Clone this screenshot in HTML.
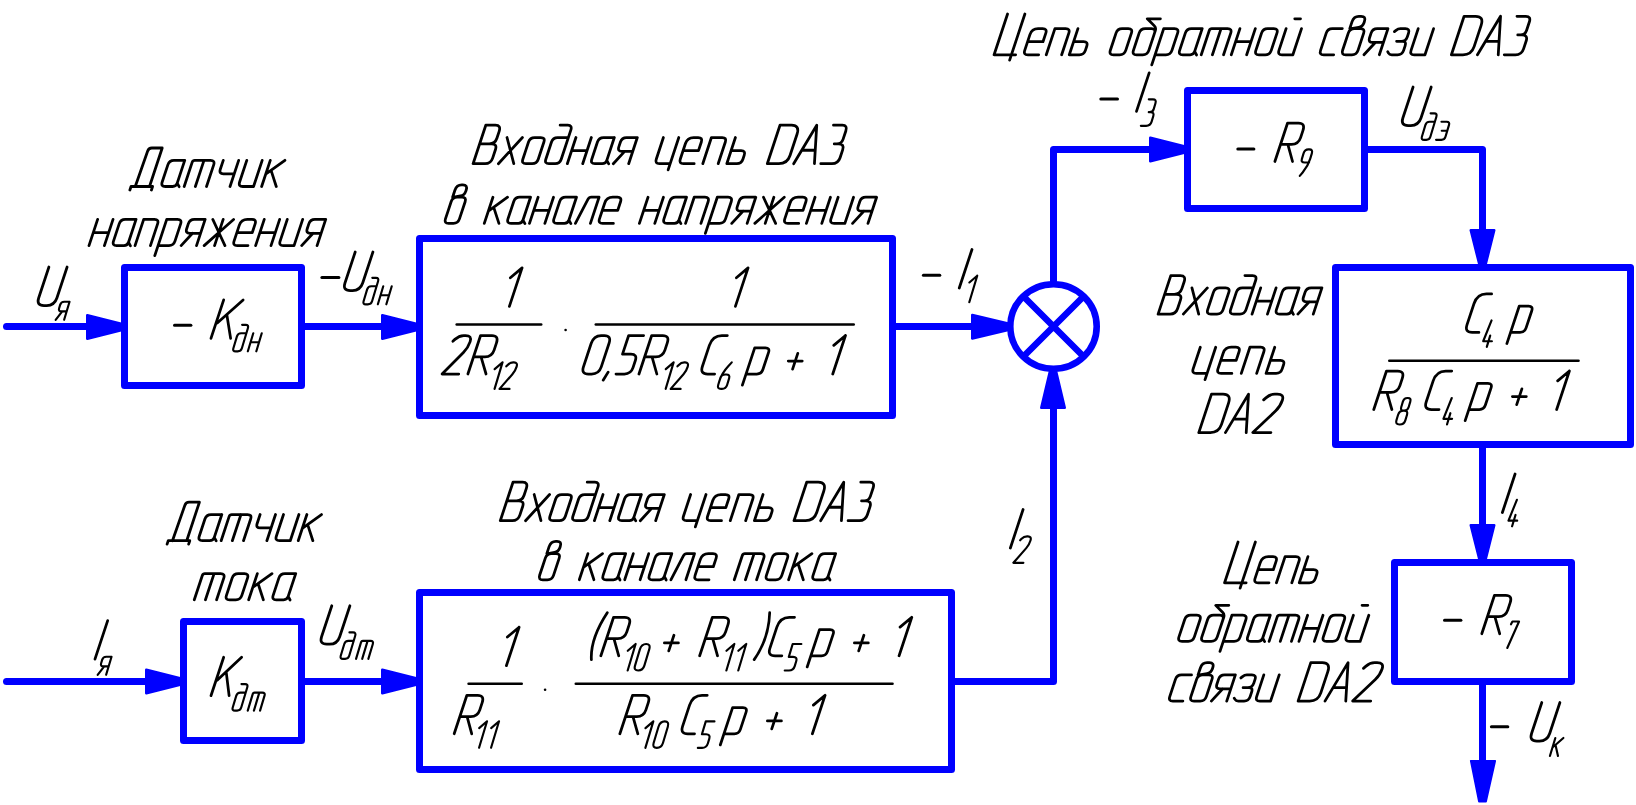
<!DOCTYPE html>
<html><head><meta charset="utf-8"><style>
html,body{margin:0;padding:0;background:#fff;width:1636px;height:805px;overflow:hidden;font-family:"Liberation Sans",sans-serif}
svg{display:block}
</style></head><body>
<svg width="1636" height="805" viewBox="0 0 1636 805">
<path d="M6.5,326.5 L121,326.5" fill="none" stroke="#0000ff" stroke-width="7" stroke-linejoin="round" stroke-linecap="round"/>
<path d="M87.30,315.30 L121.00,323.80 L121.00,330.20 L87.30,338.70Z" fill="#0000ff" stroke="#0000ff" stroke-width="2.6" stroke-linejoin="round"/>
<rect x="124.5" y="267.5" width="177" height="118" fill="none" stroke="#0000ff" stroke-width="7" stroke-linejoin="round"/>
<path d="M305,326.5 L416,326.5" fill="none" stroke="#0000ff" stroke-width="7" stroke-linejoin="round" stroke-linecap="butt"/>
<path d="M382.30,315.30 L416.00,323.80 L416.00,330.20 L382.30,338.70Z" fill="#0000ff" stroke="#0000ff" stroke-width="2.6" stroke-linejoin="round"/>
<rect x="419.5" y="238.5" width="473" height="177" fill="none" stroke="#0000ff" stroke-width="7" stroke-linejoin="round"/>
<path d="M896,326.5 L1008,326.5" fill="none" stroke="#0000ff" stroke-width="7" stroke-linejoin="round" stroke-linecap="butt"/>
<path d="M972.30,315.00 L1008.00,323.50 L1008.00,329.90 L972.30,338.40Z" fill="#0000ff" stroke="#0000ff" stroke-width="2.6" stroke-linejoin="round"/>
<ellipse cx="1053.5" cy="326.5" rx="43.2" ry="42.3" fill="none" stroke="#0000ff" stroke-width="6.6"/>
<path d="M1023.24,296.24 L1083.76,356.76 M1083.76,296.24 L1023.24,356.76" stroke="#0000ff" stroke-width="6.6"/>
<path d="M1053.5,285 L1053.5,149.5 L1184,149.5" fill="none" stroke="#0000ff" stroke-width="7" stroke-linejoin="round" stroke-linecap="butt"/>
<path d="M1150.30,137.80 L1184.00,146.30 L1184.00,152.70 L1150.30,161.20Z" fill="#0000ff" stroke="#0000ff" stroke-width="2.6" stroke-linejoin="round"/>
<rect x="1187.5" y="90.5" width="177" height="118" fill="none" stroke="#0000ff" stroke-width="7" stroke-linejoin="round"/>
<path d="M1368,149.5 L1482.5,149.5 L1482.5,264" fill="none" stroke="#0000ff" stroke-width="7" stroke-linejoin="round" stroke-linecap="butt"/>
<path d="M1470.80,230.30 L1494.20,230.30 L1485.70,264.00 L1479.30,264.00Z" fill="#0000ff" stroke="#0000ff" stroke-width="2.6" stroke-linejoin="round"/>
<rect x="1335.5" y="267.5" width="295" height="177" fill="none" stroke="#0000ff" stroke-width="7" stroke-linejoin="round"/>
<path d="M1482.5,448 L1482.5,559" fill="none" stroke="#0000ff" stroke-width="7" stroke-linejoin="round" stroke-linecap="butt"/>
<path d="M1470.80,525.30 L1494.20,525.30 L1485.70,559.00 L1479.30,559.00Z" fill="#0000ff" stroke="#0000ff" stroke-width="2.6" stroke-linejoin="round"/>
<rect x="1394.5" y="562.5" width="177" height="119" fill="none" stroke="#0000ff" stroke-width="7" stroke-linejoin="round"/>
<path d="M1482.5,685 L1482.5,765" fill="none" stroke="#0000ff" stroke-width="7" stroke-linejoin="round" stroke-linecap="butt"/>
<path d="M1470.80,760.80 L1495.20,760.80 L1486.00,801.50 L1479.00,801.50Z" fill="#0000ff" stroke="#0000ff" stroke-width="1.8" stroke-linejoin="round"/>
<path d="M6.5,681.5 L180,681.5" fill="none" stroke="#0000ff" stroke-width="7" stroke-linejoin="round" stroke-linecap="round"/>
<path d="M146.30,669.80 L180.00,678.30 L180.00,684.70 L146.30,693.20Z" fill="#0000ff" stroke="#0000ff" stroke-width="2.6" stroke-linejoin="round"/>
<rect x="183.5" y="621.5" width="118" height="119" fill="none" stroke="#0000ff" stroke-width="7" stroke-linejoin="round"/>
<path d="M305,681.5 L416,681.5" fill="none" stroke="#0000ff" stroke-width="7" stroke-linejoin="round" stroke-linecap="butt"/>
<path d="M382.30,669.80 L416.00,678.30 L416.00,684.70 L382.30,693.20Z" fill="#0000ff" stroke="#0000ff" stroke-width="2.6" stroke-linejoin="round"/>
<rect x="419.5" y="592.5" width="532" height="177" fill="none" stroke="#0000ff" stroke-width="7" stroke-linejoin="round"/>
<path d="M955,681.5 L1053.5,681.5 L1053.5,369" fill="none" stroke="#0000ff" stroke-width="7" stroke-linejoin="round" stroke-linecap="butt"/>
<path d="M1041.30,407.70 L1064.70,407.70 L1056.20,372.00 L1049.80,372.00Z" fill="#0000ff" stroke="#0000ff" stroke-width="2.6" stroke-linejoin="round"/>
<path d="M129.89,189.97 L131.03,186.50 L152.59,186.50 L151.45,189.97 M135.26,186.50 L147.59,151.28 Q148.74,148.00 151.82,148.00 L162.21,148.00 L149.51,186.50 M184.73,160.32 L173.95,160.32 Q169.33,160.32 167.85,164.81 L162.18,182.01 Q160.69,186.50 165.31,186.50 L172.63,186.50 Q176.09,186.50 177.21,183.13 L184.73,160.32 M177.21,183.13 L179.11,186.69 M184.20,186.50 L192.22,162.19 Q192.84,160.32 194.76,160.32 L210.55,160.32 Q215.17,160.32 213.69,164.81 L206.53,186.50 M204.00,160.32 L195.36,186.50 M223.27,160.32 L220.31,169.30 Q218.83,173.78 223.45,173.78 L234.23,173.78 M238.67,160.32 L230.03,186.50 M246.78,160.32 L239.62,182.01 Q238.14,186.50 242.76,186.50 L253.54,186.50 M262.18,160.32 L253.54,186.50 M270.28,160.32 L261.64,186.50 M284.91,160.32 L266.73,173.41 M271.32,171.17 L276.27,186.50" fill="none" stroke="#000" stroke-width="2.77" stroke-linecap="round" stroke-linejoin="round"/>
<path d="M97.63,219.42 L88.99,245.60 M113.03,219.42 L104.39,245.60 M93.31,232.51 L108.71,232.51 M136.06,219.42 L125.28,219.42 Q120.66,219.42 119.18,223.91 L113.50,241.11 Q112.02,245.60 116.64,245.60 L123.95,245.60 Q127.42,245.60 128.53,242.23 L136.06,219.42 M128.53,242.23 L130.44,245.79 M135.05,245.60 L143.69,219.42 L154.47,219.42 Q159.09,219.42 157.61,223.91 L150.45,245.60 M154.78,255.61 L166.72,219.42 L177.50,219.42 Q182.12,219.42 180.64,223.91 L174.97,241.11 Q173.49,245.60 168.87,245.60 L158.09,245.60 M196.52,245.60 L205.16,219.42 L194.38,219.42 Q189.76,219.42 188.28,223.91 L186.67,228.77 Q185.19,233.26 189.81,233.26 L200.59,233.26 M192.51,233.26 L181.12,245.60 M223.19,219.42 L214.55,245.60 M212.79,219.42 L218.87,232.51 L204.15,245.60 M233.58,219.42 L218.87,232.51 L224.94,245.60 M236.89,232.51 L252.29,232.51 L255.13,223.91 Q256.61,219.42 251.99,219.42 L247.37,219.42 Q241.21,219.42 239.24,225.40 L234.06,241.11 Q232.58,245.60 237.20,245.60 L247.98,245.60 M264.25,219.42 L255.61,245.60 M279.65,219.42 L271.01,245.60 M259.93,232.51 L275.33,232.51 M287.28,219.42 L280.12,241.11 Q278.64,245.60 283.26,245.60 L294.04,245.60 M302.68,219.42 L294.04,245.60 M317.07,245.60 L325.71,219.42 L314.93,219.42 Q310.31,219.42 308.83,223.91 L307.23,228.77 Q305.75,233.26 310.37,233.26 L321.15,233.26 M313.06,233.26 L301.67,245.60" fill="none" stroke="#000" stroke-width="2.77" stroke-linecap="round" stroke-linejoin="round"/>
<path d="M473.09,163.70 L485.79,125.20 L495.42,125.20 Q501.19,125.20 499.16,131.36 L496.88,138.27 Q495.03,143.88 489.25,143.88 L479.63,143.88 M479.63,143.88 L491.56,143.88 Q497.34,143.88 495.49,149.49 L492.65,158.09 Q490.80,163.70 485.02,163.70 L473.09,163.70 M507.02,137.52 L513.78,163.70 M522.42,137.52 L498.38,163.70 M525.68,150.61 L528.51,142.01 Q529.99,137.52 534.61,137.52 L540.77,137.52 Q545.39,137.52 543.91,142.01 L538.24,159.21 Q536.76,163.70 532.14,163.70 L525.98,163.70 Q521.36,163.70 522.84,159.21 L525.68,150.61 M568.37,137.52 L557.59,137.52 Q552.97,137.52 551.49,142.01 L545.82,159.21 Q544.34,163.70 548.96,163.70 L555.12,163.70 Q559.74,163.70 561.22,159.21 L570.81,130.13 Q572.44,125.20 567.82,125.20 L560.12,125.20 M575.95,137.52 L567.32,163.70 M591.35,137.52 L582.72,163.70 M571.63,150.61 L587.03,150.61 M614.33,137.52 L603.55,137.52 Q598.93,137.52 597.45,142.01 L591.78,159.21 Q590.29,163.70 594.91,163.70 L602.23,163.70 Q605.69,163.70 606.81,160.33 L614.33,137.52 M606.81,160.33 L608.71,163.89 M628.67,163.70 L637.31,137.52 L626.53,137.52 Q621.91,137.52 620.43,142.01 L618.83,146.87 Q617.35,151.36 621.97,151.36 L632.75,151.36 M624.66,151.36 L613.27,163.70" fill="none" stroke="#000" stroke-width="2.77" stroke-linecap="round" stroke-linejoin="round"/>
<path d="M663.40,137.52 L656.25,159.21 Q654.76,163.70 659.38,163.70 L670.16,163.70 M678.80,137.52 L668.13,169.86 M683.09,150.61 L698.49,150.61 L701.33,142.01 Q702.81,137.52 698.19,137.52 L693.57,137.52 Q687.41,137.52 685.44,143.50 L680.25,159.21 Q678.77,163.70 683.39,163.70 L694.17,163.70 M702.78,163.70 L711.42,137.52 L722.20,137.52 Q726.82,137.52 725.34,142.01 L718.18,163.70 M735.43,137.52 L726.79,163.70 L736.80,163.70 Q741.42,163.70 742.90,159.21 L744.25,155.10 Q745.74,150.61 741.12,150.61 L731.11,150.61" fill="none" stroke="#000" stroke-width="2.77" stroke-linecap="round" stroke-linejoin="round"/>
<path d="M767.29,163.70 L779.99,125.20 L791.54,125.20 Q800.01,125.20 797.03,134.23 L790.02,155.47 Q787.31,163.70 778.84,163.70 L767.29,163.70 M793.64,163.70 L816.74,125.20 L814.43,163.70 M801.94,150.24 L815.03,150.24 M833.47,125.20 L842.33,125.20 Q847.72,125.20 845.82,130.95 L843.04,139.39 Q841.55,143.88 836.93,143.88 L834.24,143.88 M838.09,143.88 L838.47,143.88 Q844.63,143.88 842.66,149.86 L840.07,157.72 Q838.09,163.70 831.93,163.70 L820.77,163.70" fill="none" stroke="#000" stroke-width="2.77" stroke-linecap="round" stroke-linejoin="round"/>
<path d="M448.28,210.31 L451.12,201.71 Q452.60,197.22 457.22,197.22 L462.00,197.22 Q466.62,197.22 465.14,201.71 L459.46,218.91 Q457.98,223.40 453.36,223.40 L448.58,223.40 Q443.96,223.40 445.45,218.91 L448.28,210.31 M452.60,197.22 L454.91,190.24 Q456.67,184.90 461.67,184.90 L462.87,184.90 Q467.88,184.90 466.19,190.03 L465.85,191.06 Q464.49,195.17 460.45,195.96 L454.00,197.22" fill="none" stroke="#000" stroke-width="2.77" stroke-linecap="round" stroke-linejoin="round"/>
<path d="M492.93,197.22 L484.29,223.40 M507.56,197.22 L489.38,210.31 M493.97,208.07 L498.92,223.40 M530.53,197.22 L519.75,197.22 Q515.13,197.22 513.65,201.71 L507.97,218.91 Q506.49,223.40 511.11,223.40 L518.42,223.40 Q521.89,223.40 523.00,220.03 L530.53,197.22 M523.00,220.03 L524.91,223.59 M538.10,197.22 L529.46,223.40 M553.50,197.22 L544.86,223.40 M533.78,210.31 L549.18,210.31 M576.47,197.22 L565.69,197.22 Q561.07,197.22 559.59,201.71 L553.92,218.91 Q552.44,223.40 557.06,223.40 L564.37,223.40 Q567.84,223.40 568.95,220.03 L576.47,197.22 M568.95,220.03 L570.85,223.59 M575.41,223.40 L587.90,199.43 Q589.05,197.22 591.36,197.22 L599.06,197.22 L590.42,223.40 M602.32,210.31 L617.72,210.31 L620.55,201.71 Q622.04,197.22 617.42,197.22 L612.80,197.22 Q606.64,197.22 604.66,203.20 L599.48,218.91 Q598.00,223.40 602.62,223.40 L613.40,223.40" fill="none" stroke="#000" stroke-width="2.77" stroke-linecap="round" stroke-linejoin="round"/>
<path d="M648.03,197.22 L639.39,223.40 M663.43,197.22 L654.79,223.40 M643.71,210.31 L659.11,210.31 M686.51,197.22 L675.73,197.22 Q671.11,197.22 669.63,201.71 L663.96,218.91 Q662.47,223.40 667.09,223.40 L674.41,223.40 Q677.87,223.40 678.99,220.03 L686.51,197.22 M678.99,220.03 L680.89,223.59 M685.56,223.40 L694.20,197.22 L704.98,197.22 Q709.60,197.22 708.12,201.71 L700.96,223.40 M705.35,233.41 L717.29,197.22 L728.07,197.22 Q732.69,197.22 731.21,201.71 L725.53,218.91 Q724.05,223.40 719.43,223.40 L708.65,223.40 M747.14,223.40 L755.78,197.22 L745.00,197.22 Q740.38,197.22 738.90,201.71 L737.29,206.57 Q735.81,211.06 740.43,211.06 L751.21,211.06 M743.13,211.06 L731.74,223.40 M773.86,197.22 L765.22,223.40 M763.47,197.22 L769.54,210.31 L754.83,223.40 M784.26,197.22 L769.54,210.31 L775.62,223.40 M787.63,210.31 L803.03,210.31 L805.87,201.71 Q807.35,197.22 802.73,197.22 L798.11,197.22 Q791.95,197.22 789.97,203.20 L784.79,218.91 Q783.31,223.40 787.93,223.40 L798.71,223.40 M815.04,197.22 L806.40,223.40 M830.44,197.22 L821.80,223.40 M810.72,210.31 L826.12,210.31 M838.13,197.22 L830.97,218.91 Q829.49,223.40 834.11,223.40 L844.89,223.40 M853.53,197.22 L844.89,223.40 M867.97,223.40 L876.61,197.22 L865.83,197.22 Q861.21,197.22 859.73,201.71 L858.13,206.57 Q856.65,211.06 861.27,211.06 L872.05,211.06 M863.96,211.06 L852.57,223.40" fill="none" stroke="#000" stroke-width="2.77" stroke-linecap="round" stroke-linejoin="round"/>
<path d="M167.09,544.17 L168.23,540.70 L189.79,540.70 L188.65,544.17 M172.46,540.70 L184.79,505.48 Q185.94,502.20 189.02,502.20 L199.41,502.20 L186.71,540.70 M221.81,514.52 L211.03,514.52 Q206.41,514.52 204.93,519.01 L199.26,536.21 Q197.77,540.70 202.39,540.70 L209.71,540.70 Q213.17,540.70 214.29,537.33 L221.81,514.52 M214.29,537.33 L216.19,540.89 M221.16,540.70 L229.18,516.39 Q229.80,514.52 231.72,514.52 L247.51,514.52 Q252.13,514.52 250.65,519.01 L243.49,540.70 M240.96,514.52 L232.32,540.70 M260.11,514.52 L257.15,523.50 Q255.67,527.98 260.29,527.98 L271.07,527.98 M275.51,514.52 L266.87,540.70 M283.50,514.52 L276.34,536.21 Q274.86,540.70 279.48,540.70 L290.26,540.70 M298.90,514.52 L290.26,540.70 M306.88,514.52 L298.24,540.70 M321.51,514.52 L303.33,527.61 M307.92,525.37 L312.87,540.70" fill="none" stroke="#000" stroke-width="2.77" stroke-linecap="round" stroke-linejoin="round"/>
<path d="M194.29,599.80 L202.31,575.49 Q202.93,573.62 204.85,573.62 L220.64,573.62 Q225.26,573.62 223.77,578.11 L216.62,599.80 M214.09,573.62 L205.45,599.80 M229.28,586.71 L232.12,578.11 Q233.60,573.62 238.22,573.62 L244.38,573.62 Q249.00,573.62 247.52,578.11 L241.84,595.31 Q240.36,599.80 235.74,599.80 L229.58,599.80 Q224.96,599.80 226.44,595.31 L229.28,586.71 M257.34,573.62 L248.70,599.80 M271.97,573.62 L253.79,586.71 M258.38,584.47 L263.33,599.80 M295.71,573.62 L284.93,573.62 Q280.31,573.62 278.83,578.11 L273.16,595.31 Q271.67,599.80 276.29,599.80 L283.61,599.80 Q287.07,599.80 288.19,596.43 L295.71,573.62 M288.19,596.43 L290.09,599.99" fill="none" stroke="#000" stroke-width="2.77" stroke-linecap="round" stroke-linejoin="round"/>
<path d="M500.29,520.70 L512.99,482.20 L522.62,482.20 Q528.39,482.20 526.36,488.36 L524.08,495.27 Q522.23,500.88 516.45,500.88 L506.83,500.88 M506.83,500.88 L518.76,500.88 Q524.54,500.88 522.69,506.49 L519.85,515.09 Q518.00,520.70 512.22,520.70 L500.29,520.70 M534.18,494.52 L540.94,520.70 M549.58,494.52 L525.54,520.70 M552.81,507.61 L555.65,499.01 Q557.13,494.52 561.75,494.52 L567.91,494.52 Q572.53,494.52 571.05,499.01 L565.37,516.21 Q563.89,520.70 559.27,520.70 L553.11,520.70 Q548.49,520.70 549.97,516.21 L552.81,507.61 M595.47,494.52 L584.69,494.52 Q580.07,494.52 578.59,499.01 L572.92,516.21 Q571.44,520.70 576.06,520.70 L582.22,520.70 Q586.84,520.70 588.32,516.21 L597.91,487.13 Q599.54,482.20 594.92,482.20 L587.22,482.20 M603.02,494.52 L594.38,520.70 M618.42,494.52 L609.78,520.70 M598.70,507.61 L614.10,507.61 M641.37,494.52 L630.59,494.52 Q625.97,494.52 624.49,499.01 L618.81,516.21 Q617.33,520.70 621.95,520.70 L629.26,520.70 Q632.73,520.70 633.84,517.33 L641.37,494.52 M633.84,517.33 L635.74,520.89 M655.67,520.70 L664.31,494.52 L653.53,494.52 Q648.91,494.52 647.43,499.01 L645.83,503.87 Q644.35,508.36 648.97,508.36 L659.75,508.36 M651.66,508.36 L640.27,520.70" fill="none" stroke="#000" stroke-width="2.77" stroke-linecap="round" stroke-linejoin="round"/>
<path d="M690.60,494.52 L683.45,516.21 Q681.96,520.70 686.58,520.70 L697.36,520.70 M706.00,494.52 L695.33,526.86 M710.42,507.61 L725.82,507.61 L728.66,499.01 Q730.14,494.52 725.52,494.52 L720.90,494.52 Q714.74,494.52 712.77,500.50 L707.59,516.21 Q706.10,520.70 710.72,520.70 L721.50,520.70 M730.25,520.70 L738.88,494.52 L749.66,494.52 Q754.28,494.52 752.80,499.01 L745.65,520.70 M763.03,494.52 L754.39,520.70 L764.40,520.70 Q769.02,520.70 770.50,516.21 L771.85,512.10 Q773.34,507.61 768.72,507.61 L758.71,507.61" fill="none" stroke="#000" stroke-width="2.77" stroke-linecap="round" stroke-linejoin="round"/>
<path d="M793.99,520.70 L806.69,482.20 L818.24,482.20 Q826.71,482.20 823.73,491.23 L816.72,512.47 Q814.01,520.70 805.54,520.70 L793.99,520.70 M820.64,520.70 L843.74,482.20 L841.43,520.70 M828.94,507.24 L842.03,507.24 M860.77,482.20 L869.63,482.20 Q875.02,482.20 873.12,487.95 L870.34,496.39 Q868.85,500.88 864.23,500.88 L861.54,500.88 M865.39,500.88 L865.77,500.88 Q871.93,500.88 869.96,506.86 L867.37,514.72 Q865.39,520.70 859.23,520.70 L848.07,520.70" fill="none" stroke="#000" stroke-width="2.77" stroke-linecap="round" stroke-linejoin="round"/>
<path d="M542.48,566.71 L545.32,558.11 Q546.80,553.62 551.42,553.62 L556.07,553.62 Q560.69,553.62 559.21,558.11 L553.53,575.31 Q552.05,579.80 547.43,579.80 L542.78,579.80 Q538.16,579.80 539.65,575.31 L542.48,566.71 M546.80,553.62 L549.11,546.64 Q550.87,541.30 555.87,541.30 L556.97,541.30 Q561.98,541.30 560.29,546.43 L559.95,547.46 Q558.59,551.57 554.55,552.36 L548.19,553.62" fill="none" stroke="#000" stroke-width="2.77" stroke-linecap="round" stroke-linejoin="round"/>
<path d="M587.93,553.62 L579.29,579.80 M602.56,553.62 L584.38,566.71 M588.97,564.47 L593.92,579.80 M625.65,553.62 L614.87,553.62 Q610.25,553.62 608.77,558.11 L603.09,575.31 Q601.61,579.80 606.23,579.80 L613.54,579.80 Q617.01,579.80 618.12,576.43 L625.65,553.62 M618.12,576.43 L620.03,579.99 M633.34,553.62 L624.70,579.80 M648.74,553.62 L640.10,579.80 M629.02,566.71 L644.42,566.71 M671.83,553.62 L661.05,553.62 Q656.43,553.62 654.95,558.11 L649.28,575.31 Q647.80,579.80 652.42,579.80 L659.73,579.80 Q663.20,579.80 664.31,576.43 L671.83,553.62 M664.31,576.43 L666.21,579.99 M670.89,579.80 L683.38,555.83 Q684.53,553.62 686.84,553.62 L694.54,553.62 L685.90,579.80 M697.92,566.71 L713.32,566.71 L716.15,558.11 Q717.64,553.62 713.02,553.62 L708.40,553.62 Q702.24,553.62 700.26,559.60 L695.08,575.31 Q693.60,579.80 698.22,579.80 L709.00,579.80" fill="none" stroke="#000" stroke-width="2.77" stroke-linecap="round" stroke-linejoin="round"/>
<path d="M734.29,579.80 L742.31,555.49 Q742.93,553.62 744.85,553.62 L760.64,553.62 Q765.26,553.62 763.77,558.11 L756.62,579.80 M754.09,553.62 L745.45,579.80 M769.25,566.71 L772.08,558.11 Q773.56,553.62 778.18,553.62 L784.34,553.62 Q788.96,553.62 787.48,558.11 L781.81,575.31 Q780.33,579.80 775.71,579.80 L769.55,579.80 Q764.93,579.80 766.41,575.31 L769.25,566.71 M797.27,553.62 L788.64,579.80 M811.90,553.62 L793.72,566.71 M798.32,564.47 L803.27,579.80 M835.61,553.62 L824.83,553.62 Q820.21,553.62 818.73,558.11 L813.06,575.31 Q811.57,579.80 816.19,579.80 L823.51,579.80 Q826.97,579.80 828.09,576.43 L835.61,553.62 M828.09,576.43 L829.99,579.99" fill="none" stroke="#000" stroke-width="2.77" stroke-linecap="round" stroke-linejoin="round"/>
<path d="M1007.55,13.99 L994.09,54.80 L1015.65,54.80 M1024.88,13.99 L1009.63,60.19 M1027.58,41.71 L1042.98,41.71 L1045.82,33.11 Q1047.30,28.62 1042.68,28.62 L1038.06,28.62 Q1031.90,28.62 1029.92,34.60 L1024.74,50.31 Q1023.26,54.80 1027.88,54.80 L1038.66,54.80 M1046.27,54.80 L1054.91,28.62 L1065.69,28.62 Q1070.31,28.62 1068.83,33.11 L1061.67,54.80 M1077.93,28.62 L1069.29,54.80 L1079.30,54.80 Q1083.92,54.80 1085.40,50.31 L1086.75,46.20 Q1088.24,41.71 1083.62,41.71 L1073.61,41.71" fill="none" stroke="#000" stroke-width="2.77" stroke-linecap="round" stroke-linejoin="round"/>
<path d="M1113.18,41.71 L1116.02,33.11 Q1117.50,28.62 1122.12,28.62 L1128.28,28.62 Q1132.90,28.62 1131.42,33.11 L1125.75,50.31 Q1124.26,54.80 1119.64,54.80 L1113.48,54.80 Q1108.86,54.80 1110.35,50.31 L1113.18,41.71 M1136.28,41.71 L1139.12,33.11 Q1140.60,28.62 1145.22,28.62 L1151.38,28.62 Q1156.00,28.62 1154.52,33.11 L1148.84,50.31 Q1147.36,54.80 1142.74,54.80 L1136.58,54.80 Q1131.96,54.80 1133.44,50.31 L1136.28,41.71 M1154.77,32.36 L1155.26,30.86 Q1156.27,27.80 1154.39,25.90 L1147.32,18.76 L1160.41,18.76 M1151.76,64.81 L1163.70,28.62 L1174.48,28.62 Q1179.10,28.62 1177.62,33.11 L1171.94,50.31 Q1170.46,54.80 1165.84,54.80 L1155.06,54.80 M1202.20,28.62 L1191.42,28.62 Q1186.80,28.62 1185.31,33.11 L1179.64,50.31 Q1178.16,54.80 1182.78,54.80 L1190.09,54.80 Q1193.56,54.80 1194.67,51.43 L1202.20,28.62 M1194.67,51.43 L1196.57,54.99 M1201.25,54.80 L1209.28,30.49 Q1209.89,28.62 1211.82,28.62 L1227.60,28.62 Q1232.22,28.62 1230.74,33.11 L1223.58,54.80 M1221.06,28.62 L1212.42,54.80 M1239.92,28.62 L1231.28,54.80 M1255.32,28.62 L1246.68,54.80 M1235.60,41.71 L1251.00,41.71 M1258.70,41.71 L1261.54,33.11 Q1263.02,28.62 1267.64,28.62 L1273.80,28.62 Q1278.42,28.62 1276.94,33.11 L1271.26,50.31 Q1269.78,54.80 1265.16,54.80 L1259.00,54.80 Q1254.38,54.80 1255.86,50.31 L1258.70,41.71 M1286.11,28.62 L1278.96,50.31 Q1277.47,54.80 1282.09,54.80 L1292.87,54.80 M1301.51,28.62 L1292.87,54.80 M1294.76,18.76 L1300.53,18.76" fill="none" stroke="#000" stroke-width="2.77" stroke-linecap="round" stroke-linejoin="round"/>
<path d="M1342.33,28.62 L1332.32,28.62 Q1327.70,28.62 1326.22,33.11 L1320.55,50.31 Q1319.06,54.80 1323.68,54.80 L1333.69,54.80 M1345.43,41.71 L1348.27,33.11 Q1349.75,28.62 1354.37,28.62 L1360.53,28.62 Q1365.15,28.62 1363.67,33.11 L1358.00,50.31 Q1356.51,54.80 1351.89,54.80 L1345.73,54.80 Q1341.11,54.80 1342.60,50.31 L1345.43,41.71 M1349.75,28.62 L1352.06,21.64 Q1353.82,16.30 1358.82,16.30 L1361.13,16.30 Q1366.14,16.30 1364.45,21.43 L1364.11,22.46 Q1362.75,26.57 1358.72,27.29 L1351.29,28.62 M1379.33,54.80 L1387.97,28.62 L1377.19,28.62 Q1372.57,28.62 1371.09,33.11 L1369.49,37.97 Q1368.01,42.46 1372.63,42.46 L1383.41,42.46 M1375.32,42.46 L1363.93,54.80 M1394.41,31.61 L1396.01,30.31 Q1398.09,28.62 1400.40,28.62 L1405.40,28.62 Q1410.02,28.62 1408.54,33.11 L1407.31,36.85 Q1405.83,41.34 1401.21,41.34 L1396.59,41.34 M1402.75,41.34 L1402.75,41.34 Q1406.60,41.34 1405.12,45.82 L1403.64,50.31 Q1402.15,54.80 1397.53,54.80 L1391.76,54.80 Q1389.45,54.80 1388.49,53.11 L1387.74,51.81 M1418.21,28.62 L1411.06,50.31 Q1409.57,54.80 1414.19,54.80 L1424.97,54.80 M1433.61,28.62 L1424.97,54.80" fill="none" stroke="#000" stroke-width="2.77" stroke-linecap="round" stroke-linejoin="round"/>
<path d="M1451.39,54.80 L1464.09,16.30 L1475.64,16.30 Q1484.11,16.30 1481.13,25.33 L1474.12,46.57 Q1471.41,54.80 1462.94,54.80 L1451.39,54.80 M1477.44,54.80 L1500.54,16.30 L1498.23,54.80 M1485.74,41.34 L1498.83,41.34 M1516.97,16.30 L1525.83,16.30 Q1531.22,16.30 1529.32,22.05 L1526.54,30.49 Q1525.05,34.98 1520.43,34.98 L1517.74,34.98 M1521.59,34.98 L1521.97,34.98 Q1528.13,34.98 1526.16,40.96 L1523.57,48.82 Q1521.59,54.80 1515.43,54.80 L1504.27,54.80" fill="none" stroke="#000" stroke-width="2.77" stroke-linecap="round" stroke-linejoin="round"/>
<path d="M1158.09,314.10 L1170.79,275.60 L1180.42,275.60 Q1186.19,275.60 1184.16,281.76 L1181.88,288.67 Q1180.03,294.28 1174.25,294.28 L1164.63,294.28 M1164.63,294.28 L1176.56,294.28 Q1182.34,294.28 1180.49,299.89 L1177.65,308.49 Q1175.80,314.10 1170.02,314.10 L1158.09,314.10 M1191.95,287.92 L1198.71,314.10 M1207.35,287.92 L1183.31,314.10 M1210.54,301.01 L1213.38,292.41 Q1214.86,287.92 1219.48,287.92 L1225.64,287.92 Q1230.26,287.92 1228.78,292.41 L1223.10,309.61 Q1221.62,314.10 1217.00,314.10 L1210.84,314.10 Q1206.22,314.10 1207.70,309.61 L1210.54,301.01 M1253.17,287.92 L1242.39,287.92 Q1237.77,287.92 1236.29,292.41 L1230.62,309.61 Q1229.14,314.10 1233.76,314.10 L1239.92,314.10 Q1244.54,314.10 1246.02,309.61 L1255.61,280.53 Q1257.24,275.60 1252.62,275.60 L1244.92,275.60 M1260.69,287.92 L1252.05,314.10 M1276.09,287.92 L1267.45,314.10 M1256.37,301.01 L1271.77,301.01 M1299.00,287.92 L1288.22,287.92 Q1283.60,287.92 1282.12,292.41 L1276.44,309.61 Q1274.96,314.10 1279.58,314.10 L1286.90,314.10 Q1290.36,314.10 1291.47,310.73 L1299.00,287.92 M1291.47,310.73 L1293.38,314.29 M1313.27,314.10 L1321.91,287.92 L1311.13,287.92 Q1306.51,287.92 1305.03,292.41 L1303.43,297.27 Q1301.95,301.76 1306.57,301.76 L1317.35,301.76 M1309.26,301.76 L1297.87,314.10" fill="none" stroke="#000" stroke-width="2.77" stroke-linecap="round" stroke-linejoin="round"/>
<path d="M1200.30,347.22 L1193.15,368.91 Q1191.66,373.40 1196.28,373.40 L1207.06,373.40 M1215.70,347.22 L1205.03,379.56 M1220.79,360.31 L1236.19,360.31 L1239.03,351.71 Q1240.51,347.22 1235.89,347.22 L1231.27,347.22 Q1225.11,347.22 1223.14,353.20 L1217.95,368.91 Q1216.47,373.40 1221.09,373.40 L1231.87,373.40 M1241.28,373.40 L1249.92,347.22 L1260.70,347.22 Q1265.32,347.22 1263.84,351.71 L1256.68,373.40 M1274.73,347.22 L1266.09,373.40 L1276.10,373.40 Q1280.72,373.40 1282.20,368.91 L1283.55,364.80 Q1285.04,360.31 1280.42,360.31 L1270.41,360.31" fill="none" stroke="#000" stroke-width="2.77" stroke-linecap="round" stroke-linejoin="round"/>
<path d="M1198.79,432.60 L1211.49,394.10 L1223.04,394.10 Q1231.51,394.10 1228.53,403.13 L1221.52,424.37 Q1218.81,432.60 1210.34,432.60 L1198.79,432.60 M1225.42,432.60 L1248.52,394.10 L1246.21,432.60 M1233.72,419.14 L1246.81,419.14 M1263.64,399.85 L1265.92,397.84 Q1270.16,394.10 1274.78,394.10 L1277.28,394.10 Q1284.40,394.10 1282.37,400.26 L1282.37,400.26 Q1280.34,406.42 1275.51,411.02 L1252.83,432.60 L1270.93,432.60" fill="none" stroke="#000" stroke-width="2.77" stroke-linecap="round" stroke-linejoin="round"/>
<path d="M1238.05,541.99 L1224.59,582.80 L1246.15,582.80 M1255.38,541.99 L1240.13,588.19 M1257.91,569.71 L1273.31,569.71 L1276.15,561.11 Q1277.63,556.62 1273.01,556.62 L1268.39,556.62 Q1262.23,556.62 1260.26,562.60 L1255.07,578.31 Q1253.59,582.80 1258.21,582.80 L1268.99,582.80 M1276.44,582.80 L1285.08,556.62 L1295.86,556.62 Q1300.48,556.62 1299.00,561.11 L1291.84,582.80 M1307.93,556.62 L1299.29,582.80 L1309.30,582.80 Q1313.92,582.80 1315.40,578.31 L1316.75,574.20 Q1318.24,569.71 1313.62,569.71 L1303.61,569.71" fill="none" stroke="#000" stroke-width="2.77" stroke-linecap="round" stroke-linejoin="round"/>
<path d="M1181.78,628.31 L1184.62,619.71 Q1186.10,615.22 1190.72,615.22 L1196.88,615.22 Q1201.50,615.22 1200.02,619.71 L1194.35,636.91 Q1192.86,641.40 1188.24,641.40 L1182.08,641.40 Q1177.46,641.40 1178.95,636.91 L1181.78,628.31 M1204.70,628.31 L1207.53,619.71 Q1209.02,615.22 1213.64,615.22 L1219.80,615.22 Q1224.42,615.22 1222.93,619.71 L1217.26,636.91 Q1215.78,641.40 1211.16,641.40 L1205.00,641.40 Q1200.38,641.40 1201.86,636.91 L1204.70,628.31 M1223.18,618.96 L1223.67,617.46 Q1224.69,614.40 1222.80,612.50 L1215.73,605.36 L1228.82,605.36 M1219.98,651.41 L1231.93,615.22 L1242.71,615.22 Q1247.33,615.22 1245.85,619.71 L1240.17,636.91 Q1238.69,641.40 1234.07,641.40 L1223.29,641.40 M1270.24,615.22 L1259.46,615.22 Q1254.84,615.22 1253.36,619.71 L1247.68,636.91 Q1246.20,641.40 1250.82,641.40 L1258.13,641.40 Q1261.60,641.40 1262.71,638.03 L1270.24,615.22 M1262.71,638.03 L1264.62,641.59 M1269.11,641.40 L1277.13,617.09 Q1277.75,615.22 1279.67,615.22 L1295.46,615.22 Q1300.08,615.22 1298.60,619.71 L1291.44,641.40 M1288.91,615.22 L1280.28,641.40 M1307.59,615.22 L1298.95,641.40 M1322.99,615.22 L1314.35,641.40 M1303.27,628.31 L1318.67,628.31 M1326.18,628.31 L1329.02,619.71 Q1330.50,615.22 1335.12,615.22 L1341.28,615.22 Q1345.90,615.22 1344.42,619.71 L1338.74,636.91 Q1337.26,641.40 1332.64,641.40 L1326.48,641.40 Q1321.86,641.40 1323.34,636.91 L1326.18,628.31 M1353.41,615.22 L1346.26,636.91 Q1344.77,641.40 1349.39,641.40 L1360.17,641.40 M1368.81,615.22 L1360.17,641.40 M1362.06,605.36 L1367.83,605.36" fill="none" stroke="#000" stroke-width="2.77" stroke-linecap="round" stroke-linejoin="round"/>
<path d="M1191.53,674.92 L1181.52,674.92 Q1176.90,674.92 1175.42,679.41 L1169.75,696.61 Q1168.26,701.10 1172.88,701.10 L1182.89,701.10 M1193.73,688.01 L1196.57,679.41 Q1198.05,674.92 1202.67,674.92 L1208.83,674.92 Q1213.45,674.92 1211.97,679.41 L1206.30,696.61 Q1204.81,701.10 1200.19,701.10 L1194.03,701.10 Q1189.41,701.10 1190.90,696.61 L1193.73,688.01 M1198.05,674.92 L1200.36,667.94 Q1202.12,662.60 1207.12,662.60 L1209.43,662.60 Q1214.44,662.60 1212.75,667.73 L1212.41,668.76 Q1211.05,672.87 1207.02,673.59 L1199.59,674.92 M1226.73,701.10 L1235.37,674.92 L1224.59,674.92 Q1219.97,674.92 1218.49,679.41 L1216.89,684.27 Q1215.41,688.76 1220.03,688.76 L1230.81,688.76 M1222.72,688.76 L1211.33,701.10 M1240.91,677.91 L1242.51,676.61 Q1244.59,674.92 1246.90,674.92 L1251.90,674.92 Q1256.52,674.92 1255.04,679.41 L1253.81,683.15 Q1252.33,687.64 1247.71,687.64 L1243.09,687.64 M1249.25,687.64 L1249.25,687.64 Q1253.10,687.64 1251.62,692.12 L1250.14,696.61 Q1248.65,701.10 1244.03,701.10 L1238.26,701.10 Q1235.95,701.10 1234.99,699.41 L1234.24,698.11 M1263.81,674.92 L1256.66,696.61 Q1255.17,701.10 1259.79,701.10 L1270.57,701.10 M1279.21,674.92 L1270.57,701.10" fill="none" stroke="#000" stroke-width="2.77" stroke-linecap="round" stroke-linejoin="round"/>
<path d="M1298.09,701.10 L1310.79,662.60 L1322.34,662.60 Q1330.81,662.60 1327.83,671.63 L1320.82,692.87 Q1318.11,701.10 1309.64,701.10 L1298.09,701.10 M1324.97,701.10 L1348.07,662.60 L1345.76,701.10 M1333.27,687.64 L1346.36,687.64 M1363.44,668.35 L1365.72,666.34 Q1369.96,662.60 1374.58,662.60 L1377.08,662.60 Q1384.20,662.60 1382.17,668.76 L1382.17,668.76 Q1380.14,674.92 1375.31,679.52 L1352.63,701.10 L1370.73,701.10" fill="none" stroke="#000" stroke-width="2.77" stroke-linecap="round" stroke-linejoin="round"/>
<path d="M522.08,267.90 L509.38,306.40 M510.36,277.76 L522.08,267.90" fill="none" stroke="#000" stroke-width="2.75" stroke-linecap="round" stroke-linejoin="round"/>
<path d="M456.70,324.50 L541.20,324.50" stroke="#000" stroke-width="2.6" stroke-linecap="round"/>
<path d="M452.88,341.25 L454.90,339.37 Q459.04,335.50 463.66,335.50 L465.61,335.50 Q472.18,335.50 470.15,341.66 L470.15,341.66 Q468.11,347.82 463.43,352.53 L442.07,374.00 L458.76,374.00 M467.88,374.00 L480.58,335.50 L492.00,335.50 Q498.93,335.50 496.49,342.89 L494.12,350.06 Q491.90,356.80 484.97,356.80 L473.55,356.80 M481.04,356.80 L486.04,374.00" fill="none" stroke="#000" stroke-width="2.75" stroke-linecap="round" stroke-linejoin="round"/>
<path d="M502.52,362.40 L494.57,388.90 M494.66,369.18 L502.52,362.40 M506.32,366.36 L507.42,365.20 Q510.06,362.40 513.24,362.40 L513.98,362.40 Q517.90,362.40 516.63,366.64 L516.63,366.64 Q515.36,370.88 512.40,374.25 L499.56,388.90 L509.53,388.90" fill="none" stroke="#000" stroke-width="2.15" stroke-linecap="round" stroke-linejoin="round"/>
<circle cx="565.6" cy="330" r="1.3" fill="#000"/>
<path d="M748.08,267.90 L735.38,306.40 M736.36,277.76 L748.08,267.90" fill="none" stroke="#000" stroke-width="2.75" stroke-linecap="round" stroke-linejoin="round"/>
<path d="M595.80,324.50 L853.70,324.50" stroke="#000" stroke-width="2.6" stroke-linecap="round"/>
<path d="M587.27,355.30 L591.23,343.30 Q593.80,335.50 601.12,335.50 L604.32,335.50 Q611.63,335.50 609.06,343.30 L601.27,366.89 Q598.93,374.00 591.61,374.00 L588.41,374.00 Q581.10,374.00 583.44,366.89 L587.27,355.30 M608.13,372.13 L603.17,380.16 M643.62,335.50 L628.68,335.50 L622.52,354.18 L630.92,354.18 Q637.46,354.18 635.36,360.54 L633.02,367.64 Q630.92,374.00 624.37,374.00 L615.98,374.00 M638.98,374.00 L651.68,335.50 L662.80,335.50 Q669.73,335.50 667.29,342.89 L664.92,350.06 Q662.70,356.80 655.77,356.80 L644.65,356.80 M652.02,356.80 L656.84,374.00 M727.33,335.50 L721.85,335.50 Q712.61,335.50 709.36,345.36 L702.37,366.52 Q699.91,374.00 707.61,374.00 L714.62,374.00 M742.38,385.17 L754.70,347.82 L765.43,347.82 Q770.05,347.82 768.57,352.31 L762.89,369.51 Q761.41,374.00 756.79,374.00 L746.06,374.00 M788.27,361.10 L802.22,361.10 M797.78,353.43 L792.60,369.14 M845.48,335.50 L832.77,374.00 M833.76,345.36 L845.48,335.50" fill="none" stroke="#000" stroke-width="2.75" stroke-linecap="round" stroke-linejoin="round"/>
<path d="M673.62,362.40 L665.68,388.90 M665.76,369.18 L673.62,362.40 M677.42,366.36 L678.52,365.20 Q681.16,362.40 684.34,362.40 L685.08,362.40 Q689.00,362.40 687.73,366.64 L687.73,366.64 Q686.46,370.88 683.50,374.25 L670.66,388.90 L680.63,388.90 M731.77,362.40 L728.45,366.09 Q721.67,373.45 719.35,381.18 L718.19,385.04 Q717.03,388.90 721.01,388.90 L721.96,388.90 Q725.94,388.90 727.10,385.04 L729.10,378.35 Q730.26,374.48 726.29,374.48 L725.33,374.48 Q721.36,374.48 720.20,378.35 L720.12,378.60" fill="none" stroke="#000" stroke-width="2.15" stroke-linecap="round" stroke-linejoin="round"/>
<path d="M519.08,627.20 L506.38,665.70 M507.36,637.06 L519.08,627.20" fill="none" stroke="#000" stroke-width="2.75" stroke-linecap="round" stroke-linejoin="round"/>
<path d="M468.60,683.80 L521.70,683.80" stroke="#000" stroke-width="2.6" stroke-linecap="round"/>
<path d="M454.18,733.80 L466.88,695.30 L477.70,695.30 Q484.63,695.30 482.19,702.69 L479.82,709.86 Q477.60,716.60 470.67,716.60 L459.85,716.60 M467.10,716.60 L471.74,733.80" fill="none" stroke="#000" stroke-width="2.75" stroke-linecap="round" stroke-linejoin="round"/>
<path d="M487.02,721.30 L479.07,747.80 M479.16,728.08 L487.02,721.30 M499.02,721.30 L491.07,747.80 M491.16,728.08 L499.02,721.30" fill="none" stroke="#000" stroke-width="2.15" stroke-linecap="round" stroke-linejoin="round"/>
<circle cx="545.1" cy="689.8" r="1.3" fill="#000"/>
<path d="M607.26,612.68 L607.26,612.68 Q590.24,638.60 591.38,659.65 L591.38,659.65 M600.88,655.80 L613.58,617.30 L624.70,617.30 Q631.63,617.30 629.19,624.69 L626.82,631.86 Q624.60,638.60 617.67,638.60 L606.55,638.60 M613.92,638.60 L618.74,655.80 M664.38,642.90 L678.42,642.90 M673.93,635.23 L668.75,650.94 M699.67,655.80 L712.38,617.30 L723.50,617.30 Q730.43,617.30 727.99,624.69 L725.62,631.86 Q723.40,638.60 716.47,638.60 L705.35,638.60 M712.72,638.60 L717.54,655.80 M769.68,612.68 L769.68,612.68 Q768.82,638.60 754.17,659.65 L754.17,659.65 M794.52,617.30 L789.35,617.30 Q780.11,617.30 776.86,627.16 L769.87,648.32 Q767.41,655.80 775.11,655.80 L781.82,655.80 M807.17,666.96 L819.50,629.62 L830.03,629.62 Q834.65,629.62 833.17,634.11 L827.49,651.31 Q826.01,655.80 821.39,655.80 L810.86,655.80 M854.38,642.90 L868.32,642.90 M863.88,635.23 L858.70,650.94 M911.78,617.30 L899.08,655.80 M900.06,627.16 L911.78,617.30" fill="none" stroke="#000" stroke-width="2.75" stroke-linecap="round" stroke-linejoin="round"/>
<path d="M635.62,644.00 L627.68,670.50 M627.76,650.78 L635.62,644.00 M637.41,657.63 L639.89,649.37 Q641.50,644.00 646.17,644.00 L646.17,644.00 Q650.83,644.00 649.22,649.37 L644.35,665.61 Q642.88,670.50 638.22,670.50 L638.22,670.50 Q633.55,670.50 635.02,665.61 L637.41,657.63 M734.32,644.00 L726.38,670.50 M726.46,650.78 L734.32,644.00 M746.23,644.00 L738.28,670.50 M738.36,650.78 L746.23,644.00 M801.37,644.00 L792.68,644.00 L788.82,656.86 L793.01,656.86 Q797.51,656.86 796.20,661.23 L794.73,666.12 Q793.42,670.50 788.92,670.50 L784.73,670.50" fill="none" stroke="#000" stroke-width="2.15" stroke-linecap="round" stroke-linejoin="round"/>
<path d="M575.80,683.80 L892.50,683.80" stroke="#000" stroke-width="2.6" stroke-linecap="round"/>
<path d="M619.88,733.80 L632.58,695.30 L643.80,695.30 Q650.73,695.30 648.29,702.69 L645.92,709.86 Q643.70,716.60 636.77,716.60 L625.55,716.60 M632.96,716.60 L637.84,733.80 M707.22,695.30 L702.05,695.30 Q692.81,695.30 689.56,705.16 L682.57,726.32 Q680.11,733.80 687.81,733.80 L694.52,733.80 M720.27,744.96 L732.60,707.62 L742.93,707.62 Q747.55,707.62 746.07,712.11 L740.39,729.31 Q738.91,733.80 734.29,733.80 L723.96,733.80 M767.38,720.90 L781.42,720.90 M776.93,713.23 L771.75,728.94 M825.08,695.30 L812.38,733.80 M813.36,705.16 L825.08,695.30" fill="none" stroke="#000" stroke-width="2.75" stroke-linecap="round" stroke-linejoin="round"/>
<path d="M653.32,721.40 L645.38,747.90 M645.46,728.18 L653.32,721.40 M656.01,735.03 L658.49,726.77 Q660.10,721.40 664.77,721.40 L664.77,721.40 Q669.43,721.40 667.82,726.77 L662.95,743.01 Q661.48,747.90 656.82,747.90 L656.82,747.90 Q652.15,747.90 653.62,743.01 L656.01,735.03 M714.47,721.40 L705.78,721.40 L701.92,734.26 L706.11,734.26 Q710.61,734.26 709.30,738.63 L707.83,743.52 Q706.52,747.90 702.02,747.90 L697.83,747.90" fill="none" stroke="#000" stroke-width="2.15" stroke-linecap="round" stroke-linejoin="round"/>
<path d="M1491.62,293.90 L1486.45,293.90 Q1477.21,293.90 1473.96,303.76 L1466.97,324.92 Q1464.51,332.40 1472.21,332.40 L1478.92,332.40 M1506.88,343.56 L1519.20,306.22 L1528.63,306.22 Q1533.25,306.22 1531.77,310.71 L1526.09,327.91 Q1524.61,332.40 1519.99,332.40 L1510.56,332.40" fill="none" stroke="#000" stroke-width="2.75" stroke-linecap="round" stroke-linejoin="round"/>
<path d="M1491.57,320.40 L1483.20,341.24 L1491.90,341.24 M1490.20,335.57 L1486.80,346.90" fill="none" stroke="#000" stroke-width="2.15" stroke-linecap="round" stroke-linejoin="round"/>
<path d="M1389.30,360.70 L1578.50,360.70" stroke="#000" stroke-width="2.6" stroke-linecap="round"/>
<path d="M1373.78,409.50 L1386.48,371.00 L1397.80,371.00 Q1404.73,371.00 1402.29,378.39 L1399.92,385.56 Q1397.70,392.30 1390.77,392.30 L1379.45,392.30 M1386.90,392.30 L1391.84,409.50 M1451.72,371.00 L1445.65,371.00 Q1436.41,371.00 1433.16,380.86 L1426.17,402.02 Q1423.71,409.50 1431.41,409.50 L1439.02,409.50 M1465.17,420.67 L1477.50,383.32 L1487.93,383.32 Q1492.55,383.32 1491.07,387.81 L1485.39,405.01 Q1483.91,409.50 1479.29,409.50 L1468.86,409.50 M1512.38,396.60 L1526.32,396.60 M1521.88,388.93 L1516.70,404.64 M1569.38,371.00 L1556.67,409.50 M1557.66,380.86 L1569.38,371.00" fill="none" stroke="#000" stroke-width="2.75" stroke-linecap="round" stroke-linejoin="round"/>
<path d="M1402.03,404.50 L1402.87,401.67 Q1403.98,398.00 1407.42,398.00 L1407.95,398.00 Q1411.40,398.00 1410.29,401.67 L1408.62,407.25 Q1407.62,410.60 1404.17,410.60 L1403.64,410.60 Q1400.20,410.60 1401.20,407.25 L1402.03,404.50 M1397.26,417.55 L1398.11,414.72 Q1399.35,410.60 1403.59,410.60 L1404.01,410.60 Q1408.25,410.60 1407.02,414.72 L1405.32,420.38 Q1404.08,424.50 1399.84,424.50 L1399.42,424.50 Q1395.18,424.50 1396.41,420.38 L1397.26,417.55 M1451.77,398.00 L1443.40,418.84 L1452.10,418.84 M1450.40,413.17 L1447.00,424.50" fill="none" stroke="#000" stroke-width="2.15" stroke-linecap="round" stroke-linejoin="round"/>
<path d="M174.50,325.30 L190.90,325.30" stroke="#000" stroke-width="3.0" stroke-linecap="round"/>
<path d="M223.68,299.90 L210.97,338.40 M243.12,299.90 L217.25,323.07 M226.85,314.84 L230.62,338.40" fill="none" stroke="#000" stroke-width="2.75" stroke-linecap="round" stroke-linejoin="round"/>
<path d="M246.35,333.28 L241.05,333.28 Q237.87,333.28 236.94,336.37 L233.39,348.21 Q232.46,351.30 235.64,351.30 L237.76,351.30 Q240.94,351.30 241.87,348.21 L247.87,328.19 Q248.89,324.80 245.71,324.80 L242.11,324.80 M253.26,333.28 L247.86,351.30 M261.74,333.28 L256.34,351.30 M250.56,342.29 L259.04,342.29" fill="none" stroke="#000" stroke-width="2.15" stroke-linecap="round" stroke-linejoin="round"/>
<path d="M48.91,267.00 L38.67,298.02 Q36.21,305.50 43.91,305.50 L46.72,305.50 Q54.42,305.50 56.89,298.02 L67.13,267.00" fill="none" stroke="#000" stroke-width="2.75" stroke-linecap="round" stroke-linejoin="round"/>
<path d="M64.14,319.80 L69.54,301.78 L64.24,301.78 Q61.06,301.78 60.14,304.87 L59.13,308.22 Q58.21,311.30 61.39,311.30 L66.69,311.30 M62.23,311.30 L55.66,319.80" fill="none" stroke="#000" stroke-width="2.15" stroke-linecap="round" stroke-linejoin="round"/>
<path d="M321.90,277.60 L338.90,277.60" stroke="#000" stroke-width="3.0" stroke-linecap="round"/>
<path d="M355.21,252.00 L344.97,283.02 Q342.51,290.50 350.21,290.50 L352.52,290.50 Q360.22,290.50 362.69,283.02 L372.92,252.00" fill="none" stroke="#000" stroke-width="2.75" stroke-linecap="round" stroke-linejoin="round"/>
<path d="M376.55,286.28 L371.25,286.28 Q368.07,286.28 367.14,289.37 L363.59,301.21 Q362.66,304.30 365.84,304.30 L367.96,304.30 Q371.14,304.30 372.07,301.21 L378.07,281.19 Q379.09,277.80 375.91,277.80 L372.31,277.80 M383.26,286.28 L377.86,304.30 M391.74,286.28 L386.34,304.30 M380.56,295.29 L389.04,295.29" fill="none" stroke="#000" stroke-width="2.15" stroke-linecap="round" stroke-linejoin="round"/>
<path d="M923.40,275.30 L939.80,275.30" stroke="#000" stroke-width="3.0" stroke-linecap="round"/>
<path d="M971.98,249.50 L959.27,288.00" fill="none" stroke="#000" stroke-width="2.75" stroke-linecap="round" stroke-linejoin="round"/>
<path d="M977.23,275.70 L969.28,302.20 M969.36,282.48 L977.23,275.70" fill="none" stroke="#000" stroke-width="2.15" stroke-linecap="round" stroke-linejoin="round"/>
<path d="M1100.80,99.00 L1117.50,99.00" stroke="#000" stroke-width="3.0" stroke-linecap="round"/>
<path d="M1149.18,72.90 L1136.47,111.40" fill="none" stroke="#000" stroke-width="2.75" stroke-linecap="round" stroke-linejoin="round"/>
<path d="M1148.80,99.30 L1152.94,99.30 Q1156.65,99.30 1155.46,103.26 L1153.72,109.07 Q1152.79,112.16 1149.61,112.16 L1148.76,112.16 M1150.88,112.16 L1150.88,112.16 Q1154.49,112.16 1153.25,116.28 L1151.63,121.68 Q1150.39,125.80 1146.15,125.80 L1140.85,125.80" fill="none" stroke="#000" stroke-width="2.15" stroke-linecap="round" stroke-linejoin="round"/>
<path d="M1237.80,149.00 L1253.90,149.00" stroke="#000" stroke-width="3.0" stroke-linecap="round"/>
<path d="M1274.88,161.50 L1287.58,123.00 L1298.50,123.00 Q1305.43,123.00 1302.99,130.39 L1300.62,137.56 Q1298.40,144.30 1291.47,144.30 L1280.55,144.30 M1287.84,144.30 L1292.54,161.50" fill="none" stroke="#000" stroke-width="2.75" stroke-linecap="round" stroke-linejoin="round"/>
<path d="M1309.09,162.51 L1304.53,162.51 Q1300.82,162.51 1301.90,158.91 L1303.57,153.36 Q1304.76,149.40 1308.47,149.40 L1309.31,149.40 Q1313.02,149.40 1311.84,153.36 L1310.17,158.91 Q1308.01,166.12 1302.64,172.50 L1299.77,175.90" fill="none" stroke="#000" stroke-width="2.15" stroke-linecap="round" stroke-linejoin="round"/>
<path d="M1413.11,87.00 L1402.87,118.02 Q1400.41,125.50 1408.11,125.50 L1410.82,125.50 Q1418.52,125.50 1420.99,118.02 L1431.22,87.00" fill="none" stroke="#000" stroke-width="2.75" stroke-linecap="round" stroke-linejoin="round"/>
<path d="M1434.85,121.78 L1429.55,121.78 Q1426.37,121.78 1425.44,124.87 L1421.89,136.71 Q1420.96,139.80 1424.14,139.80 L1426.26,139.80 Q1429.44,139.80 1430.37,136.71 L1436.37,116.69 Q1437.39,113.30 1434.21,113.30 L1430.61,113.30 M1441.47,121.78 L1446.77,121.78 Q1449.95,121.78 1449.03,124.87 L1445.47,136.71 Q1444.55,139.80 1441.37,139.80 L1436.07,139.80 M1441.74,130.79 L1447.25,130.79" fill="none" stroke="#000" stroke-width="2.15" stroke-linecap="round" stroke-linejoin="round"/>
<path d="M1023.08,509.50 L1010.38,548.00" fill="none" stroke="#000" stroke-width="2.75" stroke-linecap="round" stroke-linejoin="round"/>
<path d="M1020.17,540.26 L1021.27,539.10 Q1023.91,536.30 1027.09,536.30 L1027.83,536.30 Q1031.75,536.30 1030.48,540.54 L1030.48,540.54 Q1029.21,544.78 1026.25,548.15 L1013.41,562.80 L1023.38,562.80" fill="none" stroke="#000" stroke-width="2.15" stroke-linecap="round" stroke-linejoin="round"/>
<path d="M1515.08,474.00 L1502.38,512.50" fill="none" stroke="#000" stroke-width="2.75" stroke-linecap="round" stroke-linejoin="round"/>
<path d="M1516.87,499.80 L1508.50,520.64 L1517.20,520.64 M1515.50,514.97 L1512.10,526.30" fill="none" stroke="#000" stroke-width="2.15" stroke-linecap="round" stroke-linejoin="round"/>
<path d="M1444.50,620.20 L1460.90,620.20" stroke="#000" stroke-width="3.0" stroke-linecap="round"/>
<path d="M1481.78,633.80 L1494.48,595.30 L1505.70,595.30 Q1512.63,595.30 1510.19,602.69 L1507.82,609.86 Q1505.60,616.60 1498.67,616.60 L1487.45,616.60 M1494.86,616.60 L1499.74,633.80" fill="none" stroke="#000" stroke-width="2.75" stroke-linecap="round" stroke-linejoin="round"/>
<path d="M1510.98,624.33 L1512.46,621.50 L1519.03,621.50 L1507.27,648.00" fill="none" stroke="#000" stroke-width="2.15" stroke-linecap="round" stroke-linejoin="round"/>
<path d="M1491.40,726.80 L1507.80,726.80" stroke="#000" stroke-width="3.0" stroke-linecap="round"/>
<path d="M1541.81,702.50 L1531.57,733.52 Q1529.11,741.00 1536.81,741.00 L1539.52,741.00 Q1547.22,741.00 1549.69,733.52 L1559.92,702.50" fill="none" stroke="#000" stroke-width="2.75" stroke-linecap="round" stroke-linejoin="round"/>
<path d="M1555.33,737.98 L1549.92,756.00 M1563.38,737.98 L1553.05,746.99 M1555.63,745.45 L1557.98,756.00" fill="none" stroke="#000" stroke-width="2.15" stroke-linecap="round" stroke-linejoin="round"/>
<path d="M107.68,620.60 L94.97,659.10" fill="none" stroke="#000" stroke-width="2.75" stroke-linecap="round" stroke-linejoin="round"/>
<path d="M106.14,674.80 L111.54,656.78 L106.24,656.78 Q103.06,656.78 102.14,659.87 L101.13,663.22 Q100.21,666.30 103.39,666.30 L108.69,666.30 M104.23,666.30 L97.66,674.80" fill="none" stroke="#000" stroke-width="2.15" stroke-linecap="round" stroke-linejoin="round"/>
<path d="M223.68,657.20 L210.97,695.70 M241.63,657.20 L217.16,680.37 M226.23,672.14 L229.11,695.70" fill="none" stroke="#000" stroke-width="2.75" stroke-linecap="round" stroke-linejoin="round"/>
<path d="M245.70,692.58 L240.40,692.58 Q237.22,692.58 236.29,695.67 L232.74,707.51 Q231.81,710.60 234.99,710.60 L237.11,710.60 Q240.29,710.60 241.22,707.51 L247.22,687.49 Q248.24,684.10 245.06,684.10 L241.46,684.10 M247.76,710.60 L252.78,693.87 Q253.17,692.58 254.49,692.58 L262.28,692.58 Q265.46,692.58 264.53,695.67 L260.06,710.60 M259.31,692.58 L253.91,710.60" fill="none" stroke="#000" stroke-width="2.15" stroke-linecap="round" stroke-linejoin="round"/>
<path d="M331.81,605.70 L321.57,636.72 Q319.11,644.20 326.81,644.20 L329.52,644.20 Q337.22,644.20 339.69,636.72 L349.92,605.70" fill="none" stroke="#000" stroke-width="2.75" stroke-linecap="round" stroke-linejoin="round"/>
<path d="M353.70,640.88 L348.40,640.88 Q345.22,640.88 344.29,643.97 L340.74,655.81 Q339.81,658.90 342.99,658.90 L345.11,658.90 Q348.29,658.90 349.22,655.81 L355.22,635.79 Q356.24,632.40 353.06,632.40 L349.46,632.40 M356.06,658.90 L361.08,642.17 Q361.47,640.88 362.79,640.88 L370.58,640.88 Q373.76,640.88 372.83,643.97 L368.36,658.90 M367.61,640.88 L362.21,658.90" fill="none" stroke="#000" stroke-width="2.15" stroke-linecap="round" stroke-linejoin="round"/>
</svg>
</body></html>
